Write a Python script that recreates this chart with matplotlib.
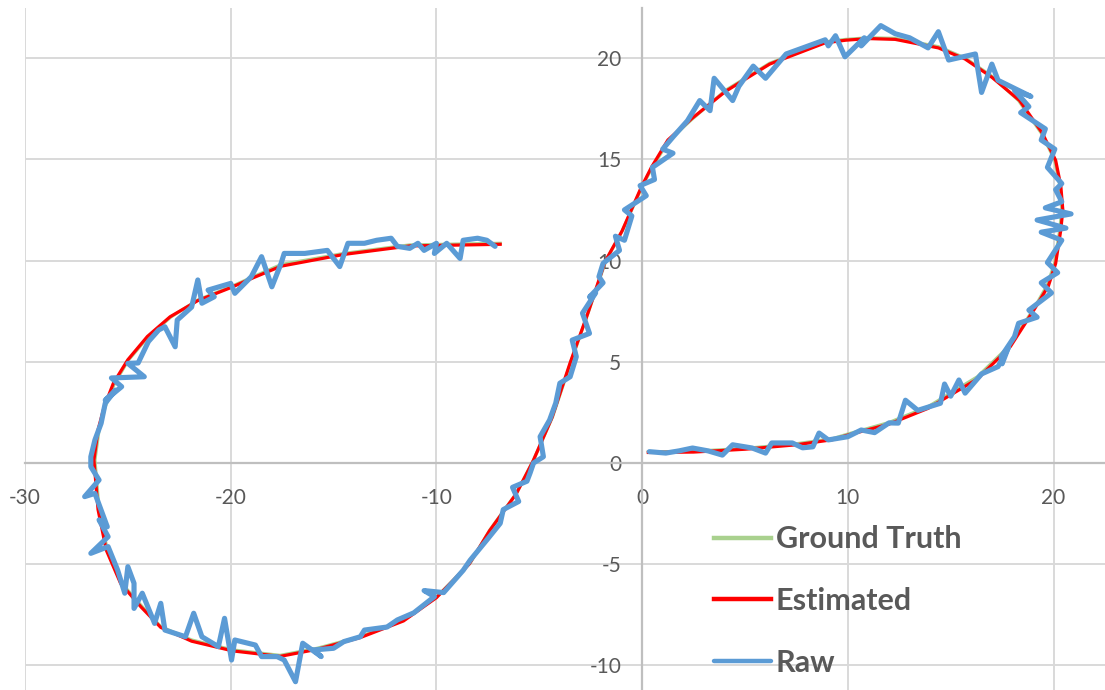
"""
trajectory: ground truth vs estimated vs raw measurements
"""
import numpy as np
import matplotlib
matplotlib.use('Agg')
import matplotlib.pyplot as plt

plt.rcParams['font.family'] = ['Lato', 'DejaVu Sans']
plt.rcParams['axes.unicode_minus'] = False

''' ==== data (read off the chart) ==== '''
gt_x = [0.3, 2.5, 5.0, 7.5, 9.25, 10.0, 12.0, 13.9, 16.3, 17.9, 19.1, 19.7, 20.06, 20.3, 20.4,
        20.3, 20.06, 19.4, 18.3, 17.0, 15.7, 14.4, 12.3, 11.0, 9.9, 8.9, 6.2, 4.05, 2.45, 1.32,
        0.5, 0.0, -0.95, -1.76, -2.6, -3.46, -4.35, -5.28, -6.1, -7.4, -8.36, -9.98, -11.6,
        -13.7, -15.8, -17.6, -19.9, -21.9, -23.4, -24.3, -25.3, -26.0, -26.4, -26.6, -26.4,
        -26.1, -25.65, -24.97, -24.0, -22.9, -21.6, -20.0, -18.9, -17.55, -14.5, -11.3, -6.9]
gt_y = [0.55, 0.58, 0.72, 0.95, 1.2, 1.43, 2.0, 2.78, 4.26, 5.83, 7.72, 8.8, 9.9, 11.5, 12.5,
        13.7, 14.96, 16.3, 17.9, 19.1, 20.0, 20.56, 20.97, 21.0, 20.92, 20.8, 19.74, 18.4, 17.0,
        15.95, 14.63, 13.65, 11.5, 10.0, 7.5, 5.0, 2.29, 0.15, -1.48, -3.3, -4.94, -6.6, -7.75,
        -8.58, -9.15, -9.5, -9.23, -8.74, -8.08, -7.1, -5.94, -4.3, -2.3, 0.15, 1.63,
        2.78, 3.93, 5.09, 6.24, 7.22, 8.05, 8.7, 9.2, 9.8, 10.35, 10.77, 10.85]

est_x = [0.3, 2.5, 5.0, 7.5, 9.25, 10.0, 12.0, 13.9, 16.3, 17.9, 19.1, 19.75, 20.1, 20.35, 20.45,
         20.35, 20.1, 19.45, 18.35, 17.0, 15.7, 14.4, 12.3, 11.0, 9.9, 8.9, 6.2, 4.05, 2.4, 1.25,
         0.45, -0.05, -0.98, -1.8, -2.62, -3.5, -4.38, -5.3, -6.12, -7.42, -8.4, -10.0, -11.6,
         -13.7, -15.8, -17.6, -19.9, -21.9, -23.4, -24.35, -25.35, -26.05, -26.45, -26.65, -26.45,
         -26.15, -25.7, -25.0, -24.05, -22.95, -21.6, -20.0, -18.9, -17.55, -14.5, -11.3, -6.9]
est_y = [0.52, 0.54, 0.68, 0.9, 1.15, 1.38, 1.92, 2.7, 4.15, 5.75, 7.65, 8.75, 9.85, 11.5, 12.5,
         13.7, 14.95, 16.3, 17.9, 19.05, 19.95, 20.5, 20.92, 20.96, 20.88, 20.75, 19.7, 18.35, 17.0,
         15.95, 14.6, 13.6, 11.45, 9.95, 7.45, 4.95, 2.25, 0.1, -1.52, -3.35, -4.98, -6.65, -7.8,
         -8.62, -9.2, -9.55, -9.28, -8.8, -8.12, -7.12, -5.95, -4.3, -2.3, 0.15, 1.63,
         2.78, 3.95, 5.1, 6.25, 7.22, 8.02, 8.66, 9.15, 9.72, 10.3, 10.72, 10.8]

raw_x = [0.35, 1.15, 1.8, 2.45, 3.2, 3.9, 4.4, 5.35, 6.0, 6.3, 7.3, 7.8, 8.3, 8.6, 9.05, 10.0,
         10.65, 11.3, 12.0, 12.45, 12.8, 13.4, 14.5, 14.7, 15.0, 15.4, 15.7, 16.5, 17.3, 17.8,
         17.5, 17.45, 18.1, 18.3, 19.2, 18.8, 19.9, 19.4, 20.2, 19.7, 20.4, 19.4, 20.6, 19.2,
         20.85, 19.6, 20.4, 20.1, 20.4, 19.7, 20.06, 19.4, 19.6, 18.4, 18.8, 18.1, 18.9, 17.3,
         17.0, 16.5, 16.2, 14.9, 14.4, 13.9, 13.0, 12.3, 11.6, 10.65, 10.8, 9.86, 9.4, 9.05,
         8.9, 7.0, 6.0, 5.4, 4.7, 4.4, 3.5, 3.3, 2.8, 2.2, 1.5, 1.0, 1.5, 0.5, 0.6, -0.1, 0.2,
         -0.86, -0.5, -0.86, -1.3, -1.1, -1.9, -2.1, -1.9, -2.56, -2.26, -2.9, -2.56, -3.4,
         -3.2, -3.5, -4.0, -4.2, -4.5, -4.96, -4.8, -5.28, -5.45, -5.6, -6.3, -6.0, -6.75,
         -6.9, -7.55, -8.36, -8.7, -9.65, -10.6, -10.1, -11.1, -11.9, -12.4, -13.5, -13.7,
         -14.5, -15.0, -15.96, -15.6, -16.5, -16.85, -17.4, -17.75, -18.5, -18.8, -19.8,
         -19.96, -20.3, -20.6, -21.4, -21.8, -22.2, -23.2, -23.4, -23.7, -24.3, -24.7, -24.7,
         -25.0, -25.15, -25.5, -25.96, -26.8, -25.96, -26.4, -26.0, -26.6, -27.1, -26.4,
         -26.8, -26.8, -26.6, -26.3, -26.1, -25.6, -26.1, -25.3, -25.8, -24.2, -25.0, -24.5,
         -24.0, -23.5, -23.2, -22.7, -22.6, -21.9, -21.6, -21.4, -20.8, -21.1, -20.0, -19.8,
         -19.0, -18.5, -18.0, -17.55, -17.4, -16.4, -15.3, -14.7, -14.3, -13.5, -12.9, -12.2,
         -11.9, -11.3, -10.9, -10.6, -10.0, -10.1, -9.5, -8.85, -8.7, -8.0, -7.55, -7.15]
raw_y = [0.56, 0.49, 0.6, 0.74, 0.6, 0.39, 0.9, 0.74, 0.49, 0.99, 0.99, 0.75, 0.8, 1.48, 1.14, 1.3,
         1.63, 1.5, 1.98, 1.97, 3.1, 2.6, 2.95, 3.9, 3.3, 4.1, 3.45, 4.4, 4.76, 5.7,
         4.9, 5.25, 6.24, 6.9, 7.2, 7.55, 8.4, 8.9, 9.4, 9.9, 11.0, 11.4, 11.6, 12.0,
         12.3, 12.6, 12.9, 13.5, 13.8, 14.6, 15.5, 15.95, 16.5, 17.3, 17.6, 18.4, 18.1, 18.9,
         19.7, 18.3, 20.2, 19.9, 21.3, 20.5, 21.0, 21.2, 21.6, 20.6, 21.0, 20.06, 21.1, 20.6,
         20.9, 20.2, 19.0, 19.6, 18.6, 17.9, 19.0, 17.4, 17.9, 16.9, 16.1, 15.5, 15.3, 14.6, 14.0, 13.7, 13.2,
         12.5, 12.2, 11.0, 11.2, 10.5, 9.86, 9.2, 8.9, 8.2, 8.4, 7.4, 6.4, 6.07,
         5.25, 4.26, 3.94, 2.96, 2.12, 1.3, 0.31, 0.0, -0.5, -0.9, -1.2, -1.9, -2.3,
         -2.98, -3.8, -4.8, -5.3, -6.4, -6.3, -6.6, -7.4, -7.75, -8.1, -8.25, -8.58,
         -8.82, -9.15, -9.23, -9.56, -8.9, -10.8, -9.73, -9.56, -9.56, -8.99, -8.74,
         -9.73, -7.67, -9.07, -8.58, -7.42, -8.58, -8.25, -6.93, -7.92, -6.43, -7.18, -5.94,
         -5.12, -6.43, -5.28, -4.13, -4.46, -3.64, -2.81, -3.15, -1.5, -1.66, -0.84,
         -0.18, 0.31, 1.14, 1.96, 2.95, 3.6, 3.1, 3.77, 4.2, 4.26, 4.92, 4.94,
         6.0, 6.57, 6.73, 5.74, 7.06, 7.7, 9.04, 7.89, 8.21, 8.54, 8.87, 8.38,
         9.2, 10.19, 8.7, 9.86, 10.35, 10.35, 10.5, 9.7, 10.85, 10.85, 11.0, 11.1,
         10.7, 10.6, 10.85, 10.5, 10.85, 10.35, 10.85, 10.1, 11.0, 11.1, 11.0, 10.7]

series = ['Ground Truth', 'Estimated', 'Raw']
colors = ['#a9d18e', '#ff0000', '#5b9bd5']

x_lim = [-30, 22.5]
y_lim = [-11.21, 22.47]
grid_c = '#d9d9d9'
axis_c = '#bfbfbf'
txt_c = '#595959'

#---- plot
fig = plt.figure(figsize=(11.05, 6.9), dpi=100)
ax = fig.add_axes([25/1105, 0, 1080/1105, 682/690])

ax.plot(gt_x, gt_y, color=colors[0], lw=2.3, label=series[0], solid_joinstyle='round', zorder=3)
ax.plot(est_x, est_y, color=colors[1], lw=2.3, label=series[1], solid_joinstyle='round', zorder=4)
ax.plot(raw_x, raw_y, color=colors[2], lw=3.7, label=series[2], solid_joinstyle='round',
        solid_capstyle='round', zorder=5)

ax.set_xlim(x_lim)
ax.set_ylim(y_lim)

# axes cross at the origin (excel style)
for s in ['top', 'right']:
    ax.spines[s].set_visible(False)
ax.spines['left'].set_position(('data', 0))
ax.spines['bottom'].set_position(('data', 0))
for s in ['left', 'bottom']:
    ax.spines[s].set_color(axis_c)
    ax.spines[s].set_linewidth(1.6)
    ax.spines[s].set_zorder(2)

ax.set_xticks(np.arange(-30, 21, 10))
ax.set_yticks(np.arange(-10, 21, 5))
ax.tick_params(axis='x', length=0, pad=18, labelsize=15, labelcolor=txt_c)
ax.tick_params(axis='y', length=0, pad=15, labelsize=15, labelcolor=txt_c)
for lab in ax.get_xticklabels() + ax.get_yticklabels():
    lab.set_clip_on(False)

for xv in [-30, -20, -10, 10, 20]:
    ax.axvline(xv, color=grid_c, lw=1.4, zorder=1)
for yv in [-10, -5, 5, 10, 15, 20]:
    ax.axhline(yv, color=grid_c, lw=1.4, zorder=1)

leg = ax.legend(loc='center left', bbox_to_anchor=(714/1105, 1 - 601/690), bbox_transform=fig.transFigure,
                frameon=False, borderpad=0, borderaxespad=0, handlelength=1.86, handletextpad=0.16,
                labelspacing=1.1, prop={'weight': 'bold', 'size': 22})
for t in leg.get_texts():
    t.set_color(txt_c)
for h in leg.get_lines():
    h.set_linewidth(3.2)

plt.savefig('out.png', dpi=100)
plt.close()
